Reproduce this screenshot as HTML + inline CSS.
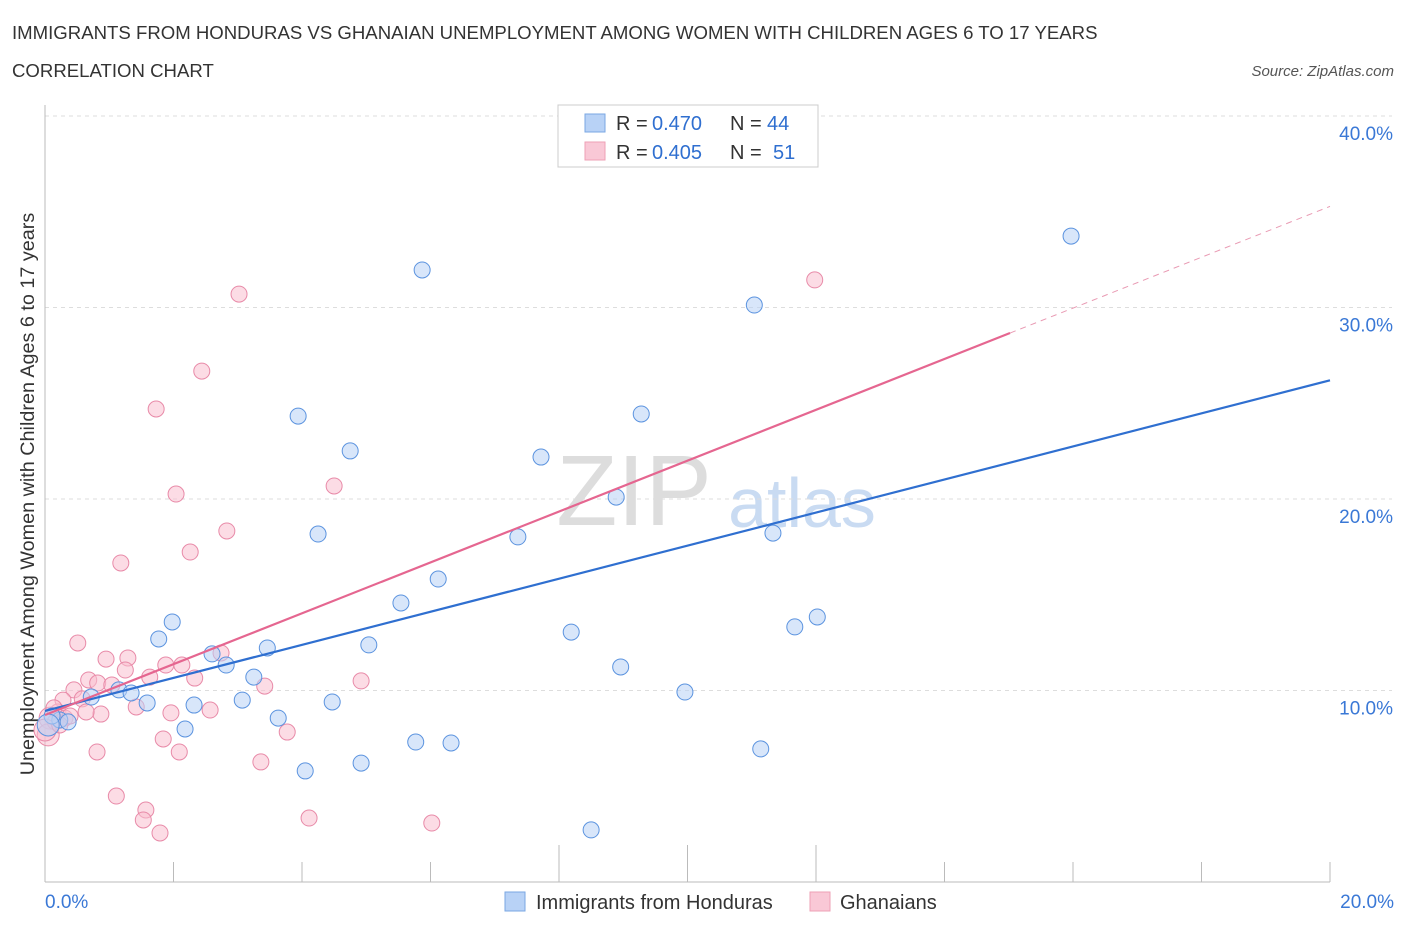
<!DOCTYPE html>
<html><head><meta charset="utf-8"><style>
body{margin:0;background:#fff;font-family:"Liberation Sans",sans-serif;}
svg text{font-family:"Liberation Sans",sans-serif;}
</style></head><body>
<svg id="c" width="1406" height="930" xmlns="http://www.w3.org/2000/svg">
<text x="12" y="39" font-size="18.6" fill="#333">IMMIGRANTS FROM HONDURAS VS GHANAIAN UNEMPLOYMENT AMONG WOMEN WITH CHILDREN AGES 6 TO 17 YEARS</text>
<text x="12" y="77" font-size="18.6" fill="#333">CORRELATION CHART</text>
<text x="1394" y="76" font-size="15" fill="#555" font-style="italic" text-anchor="end">Source: ZipAtlas.com</text>
<text x="634" y="525" font-size="100" fill="#ddd" font-family="Liberation Serif" text-anchor="middle">ZIP</text>
<text x="802" y="527" font-size="70" fill="#c9dbf2" text-anchor="middle">atlas</text>
<text transform="translate(34,494) rotate(-90)" font-size="19.8" fill="#333" text-anchor="middle">Unemployment Among Women with Children Ages 6 to 17 years</text>
<g id="grid"></g><g id="pts"></g><g id="lines"></g>
<g>
<rect x="558" y="105" width="260" height="62" fill="#fff" stroke="#ccc"/>
<rect x="585" y="114" width="20" height="18" fill="#b8d2f6" stroke="#7aa7e3"/>
<rect x="585" y="142" width="20" height="18" fill="#f9c8d6" stroke="#eea0b6"/>
<text x="616" y="130" font-size="20" fill="#333">R =</text><text x="652" y="130" font-size="20" fill="#2f6fd0">0.470</text>
<text x="730" y="130" font-size="20" fill="#333">N =</text><text x="767" y="130" font-size="20" fill="#2f6fd0">44</text>
<text x="616" y="159" font-size="20" fill="#333">R =</text><text x="652" y="159" font-size="20" fill="#2f6fd0">0.405</text>
<text x="730" y="159" font-size="20" fill="#333">N =</text><text x="773" y="159" font-size="20" fill="#2f6fd0">51</text>
</g>
<g>
<rect x="505" y="892" width="20" height="19" fill="#b8d2f6" stroke="#7aa7e3"/>
<text x="536" y="909" font-size="20" fill="#333">Immigrants from Honduras</text>
<rect x="810" y="892" width="20" height="19" fill="#f9c8d6" stroke="#eea0b6"/>
<text x="840" y="909" font-size="20" fill="#333">Ghanaians</text>
</g>
</svg>
<script>
const yTicks=[10,20,30,40];
const xTickLabels=["0.0%","20.0%"];
const blueX=[15.97,5.87,11.04,3.94,9.28,4.75,7.72,8.89,4.25,7.36,11.33,6.12,5.54,1.98,1.77,5.04,8.19,11.67,12.02,3.46,2.60,2.82,8.96,3.25,9.96,0.72,1.15,1.34,1.59,2.32,3.07,4.47,3.63,2.18,5.77,6.32,4.05,4.92,11.14,8.50,0.23,0.36,0.11,0.05];
const blueY=[33.73,31.96,30.13,24.33,24.44,22.51,22.19,20.10,18.17,18.02,18.22,15.82,14.57,13.58,12.69,12.38,13.05,13.32,13.84,12.22,11.91,11.33,11.23,10.70,9.92,9.66,10.03,9.87,9.35,9.24,9.50,9.40,8.56,7.99,7.31,7.26,5.80,6.21,6.95,2.72,8.46,8.36,8.67,8.20];
const pinkX=[11.98,3.02,2.44,1.73,2.04,4.50,2.83,2.26,1.18,0.51,0.95,1.29,1.88,2.13,2.74,1.25,2.33,4.92,3.42,0.68,0.82,1.04,1.63,0.45,0.28,0.58,0.87,0.64,1.42,1.96,2.57,1.84,3.77,0.81,2.09,3.36,1.11,1.57,1.53,1.79,4.11,6.02,0.20,0.08,0.05,0.16,0.31,0.39,0,0.14,0.23];
const pinkY=[31.44,30.70,26.68,24.70,20.26,20.68,18.33,17.23,16.66,12.48,11.64,11.70,11.33,11.33,11.96,11.07,10.65,10.50,10.23,10.55,10.39,10.29,10.70,10.03,9.50,9.56,8.77,8.88,9.14,8.83,8.98,7.47,7.83,6.79,6.79,6.27,4.49,3.76,3.24,2.56,3.34,3.08,8.88,8.56,7.68,8.36,8.56,8.67,7.94,9.09,8.20];
const blueLine=[8.93,26.2];
const pinkLine=[8.72,35.28];
const NS="http://www.w3.org/2000/svg";
const X=v=>45+v*64.25, Y=v=>882-v*19.15;
function mk(t,a,p){const e=document.createElementNS(NS,t);for(const k in a)e.setAttribute(k,a[k]);p.appendChild(e);return e;}
const g=document.getElementById('grid');
yTicks.forEach(t=>{
 const l=mk('line',{x1:45,x2:1392,y1:Y(t),y2:Y(t),stroke:'#ddd','stroke-dasharray':'4,4'},g);
 
 
 const tx=mk('text',{x:1393,y:Y(t)+24,'font-size':19,fill:'#3a78d6','text-anchor':'end'},g);tx.textContent=t.toFixed(1)+'%';
 
 
});
const ax=mk('line',{x1:45,x2:1330,y1:882,y2:882,stroke:'#bbb'},g);


const ay=mk('line',{x1:45,x2:45,y1:105,y2:882,stroke:'#bbb'},g);


for(let i=0;i<=10;i++){const v=i*2;const tk=mk('line',{x1:X(v),x2:X(v),y1:882,y2:(i>=4&&i<=6)?845:862,stroke:'#bbb'},g);
 
 }
[[0,"start",45],[20,"end",1394]].forEach((a,i)=>{const t=mk('text',{x:a[2],y:908,'font-size':19,fill:'#3a78d6','text-anchor':a[1]},g);t.textContent=xTickLabels[i];
 
 });
const p=document.getElementById('pts');
function pts(xs,ys,fill,st,name){xs.forEach((x,i)=>{const big=x<0.1;const c=mk('circle',{cx:X(x),cy:Y(ys[i]),r:big?11:8,fill:fill,'fill-opacity':0.55,stroke:st,'stroke-width':1},p);
 
 });}
pts(pinkX,pinkY,'#f9c0d0','#e88aa8','ghanaians-point');
pts(blueX,blueY,'#b8d2f6','#5b93df','honduras-point');
const L=document.getElementById('lines');
const bl=mk('line',{x1:X(0),y1:Y(blueLine[0]),x2:X(20),y2:Y(blueLine[1]),stroke:'#2f6fd0','stroke-width':2.2},L);


const ps=(pinkLine[1]-pinkLine[0])/20, xe=15.02;
const pl=mk('line',{x1:X(0),y1:Y(pinkLine[0]),x2:X(xe),y2:Y(pinkLine[0]+ps*xe),stroke:'#e56690','stroke-width':2.2},L);


const pd=mk('line',{x1:X(xe),y1:Y(pinkLine[0]+ps*xe),x2:X(20),y2:Y(pinkLine[1]),stroke:'#e99ab3','stroke-width':1,'stroke-dasharray':'6,5'},L);


</script>
</body></html>
